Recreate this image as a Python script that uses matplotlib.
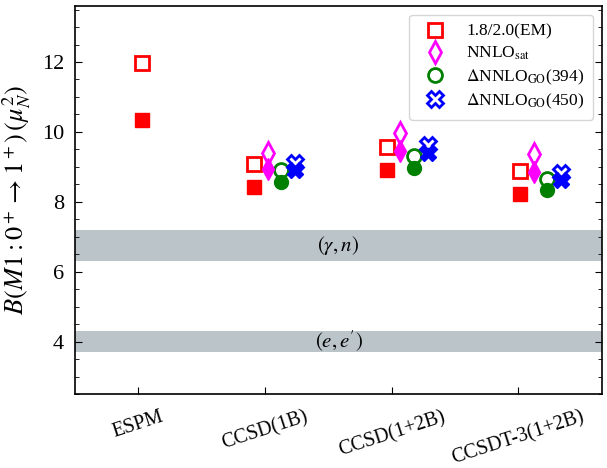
import numpy as np
import matplotlib
matplotlib.use("Agg")
import matplotlib.pyplot as plt

plt.rcParams['font.family'] = ['Liberation Serif', 'DejaVu Serif']
plt.rcParams['mathtext.fontset'] = 'stix'

categories = ['ESPM', 'CCSD(1B)', 'CCSD(1+2B)', 'CCSDT-3(1+2B)']

# open / filled values per interaction (NaN = not computed)
em_open = [11.98, 9.07, 9.57, 8.88]
em_filled = [10.35, 8.41, 8.92, 8.21]
sat_open = [np.nan, 9.40, 9.98, 9.36]
sat_filled = [np.nan, 8.94, 9.46, 8.84]
go394_open = [np.nan, 8.90, 9.30, 8.64]
go394_filled = [np.nan, 8.58, 8.96, 8.35]
go450_open = [np.nan, 9.10, 9.63, 8.81]
go450_filled = [np.nan, 8.90, 9.41, 8.62]

labels = ['1.8/2.0(EM)', r'NNLO$_{\rm sat}$', r'$\Delta$NNLO$_{\rm GO}$(394)',
          r'$\Delta$NNLO$_{\rm GO}$(450)']

band_gn = (6.3, 7.2)
band_ee = (3.7, 4.3)

# layout
colors = ['red', 'magenta', 'green', 'blue']
markers = ['s', 'd', 'o', 'X']
sizes = [10, 11, 10, 11]
group_shift = [0.03, -0.087, -0.038, 0.013]
step = 0.107

fig = plt.figure(figsize=(6.07, 4.68), dpi=100)
ax = fig.add_axes([0.1236, 0.1581, 0.8682, 0.8289])

ax.axhspan(*band_gn, color='#bac4c9', lw=0, zorder=0)
ax.axhspan(*band_ee, color='#bac4c9', lw=0, zorder=0)

xlim = (-0.5, 3.66)
xc = 0.5 * (xlim[0] + xlim[1])
ax.text(xc, np.mean(band_gn), r'$(\gamma,n)$', ha='center', va='center', fontsize=15)
ax.text(xc, np.mean(band_ee), r"$(e,e^{\prime})$", ha='center', va='center', fontsize=15)

opens = [em_open, sat_open, go394_open, go450_open]
filleds = [em_filled, sat_filled, go394_filled, go450_filled]
base = np.arange(len(categories))
for k in range(4):
    x = base + np.array(group_shift) + k * step
    ax.plot(x, opens[k], linestyle='none', marker=markers[k], ms=sizes[k],
            mfc='white', mec=colors[k], mew=2, label=labels[k], zorder=3)
    ax.plot(x, filleds[k], linestyle='none', marker=markers[k], ms=sizes[k],
            mfc=colors[k], mec=colors[k], mew=1, zorder=4)

ax.set_xlim(*xlim)
ax.set_ylim(2.5, 13.6)
ax.set_xticks(base)
ax.set_xticklabels(categories, rotation=18, fontsize=14.5)
ax.set_yticks([4, 6, 8, 10, 12])
ax.set_yticks(np.arange(2.5, 13.6, 0.5), minor=True)
ax.tick_params(axis='y', which='both', direction='in', right=True, labelsize=16, pad=8)
ax.tick_params(axis='y', which='major', length=5)
ax.tick_params(axis='y', which='minor', length=3)
ax.tick_params(axis='x', direction='in', length=5, pad=10)
for s in ax.spines.values():
    s.set_linewidth(1.2)

ax.set_ylabel(r'$B(M1: 0^+ \rightarrow 1^+)\,(\mu_N^2)$', fontsize=19, labelpad=6)

ax.legend(loc='upper right', fontsize=12.5, handletextpad=0.8, borderpad=0.5,
          labelspacing=0.3)

fig.savefig('out.png', dpi=100)
